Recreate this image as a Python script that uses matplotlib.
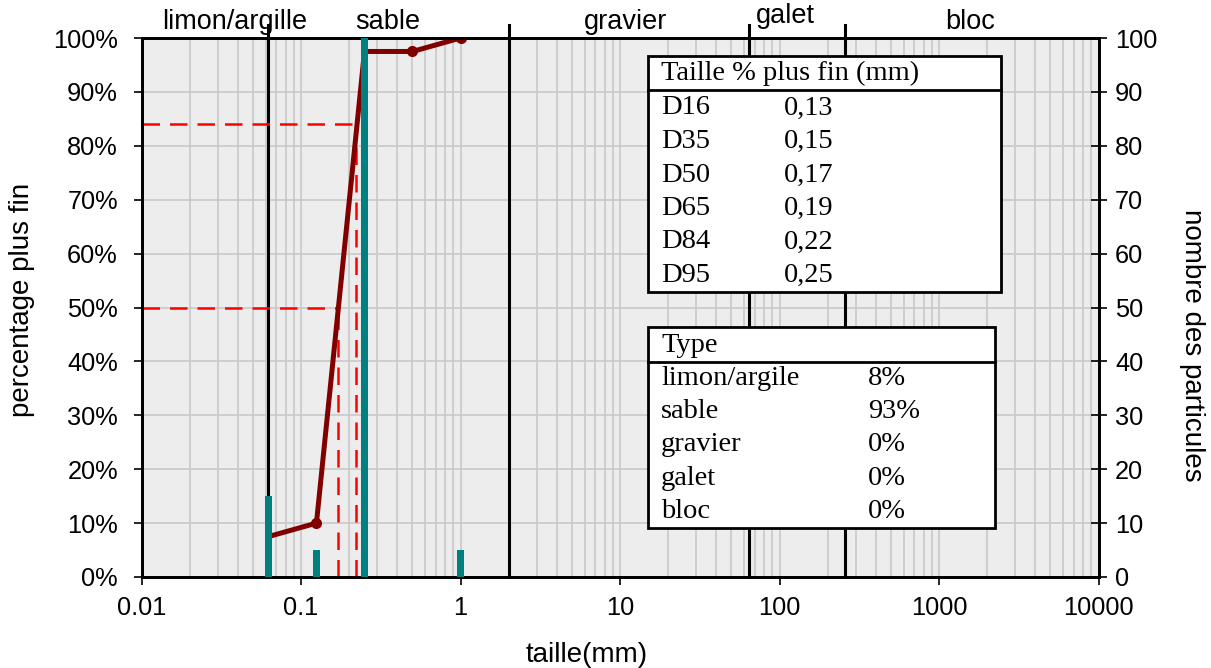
import matplotlib
matplotlib.use("Agg")
import matplotlib.pyplot as plt
from matplotlib.patches import Rectangle
from matplotlib.lines import Line2D
from matplotlib.ticker import FixedLocator, NullFormatter
import numpy as np

# ---------------- data ----------------
sizes = [0.0625, 0.125, 0.25, 0.5, 1]          # mm
cum_pct = [7.5, 10, 97.5, 97.5, 100]           # % plus fin
counts = [15, 5, 175, 0, 5]                    # nombre des particules

d_labels = ["D16", "D35", "D50", "D65", "D84", "D95"]
d_values = ["0,13", "0,15", "0,17", "0,19", "0,22", "0,25"]

type_labels = ["limon/argile", "sable", "gravier", "galet", "bloc"]
type_values = ["8%", "93%", "0%", "0%", "0%"]

class_names = ["limon/argille", "sable", "gravier", "galet", "bloc"]
class_label_x = [0.0385, 0.35, 10.8, 109, 1570]
class_bounds = [0.0625, 2, 64, 256]

d50, d84 = 0.17, 0.22

xtick_vals = [0.01, 0.1, 1, 10, 100, 1000, 10000]
xtick_labels = ["0.01", "0.1", "1", "10", "100", "1000", "10000"]
ytick_vals = list(range(0, 101, 10))

# ---------------- figure ----------------
W, H = 1211, 668
fig = plt.figure(figsize=(W / 100, H / 100), dpi=100)
plt.rcParams['font.family'] = ['Liberation Sans', 'DejaVu Sans']

TICK_FS = 18.3
LAB_FS = 20

def fx(px):
    return px / W

def fy(py):
    return 1 - py / H

L, R, T, B = 141.5, 1098.5, 38, 577
ax = fig.add_axes([fx(L), fy(B), fx(R) - fx(L), fy(T) - fy(B)])
ax.set_xscale('log')
ax.set_xlim(0.01, 10000)
ax.set_ylim(0, 100)
ax.set_facecolor('#ededed')

# grid
ax.xaxis.set_minor_locator(FixedLocator(
    [m * 10.0 ** e for e in range(-2, 4) for m in range(2, 10)]))
ax.xaxis.set_minor_formatter(NullFormatter())
ax.set_xticks(xtick_vals)
ax.set_xticklabels(xtick_labels)
ax.set_yticks(ytick_vals)
ax.set_yticklabels([f"{v}%" for v in ytick_vals])
ax.grid(True, which='both', axis='x', color='#c8c8c8', lw=1.2, zorder=0)
ax.grid(True, which='major', axis='y', color='#c8c8c8', lw=1.2, zorder=0)
ax.set_axisbelow(True)
ax.tick_params(axis='x', which='minor', length=0)
ax.tick_params(axis='x', which='major', direction='out', length=6, width=1.2,
               labelsize=TICK_FS, pad=8)
ax.tick_params(axis='y', direction='out', length=6, width=1.2,
               labelsize=TICK_FS, pad=11)
for s in ax.spines.values():
    s.set_linewidth(2)
    s.set_color('black')

# class boundaries
for b in class_bounds:
    ax.plot([b, b], [0, 102.5], color='black', lw=2.2, zorder=2, clip_on=False)

# class labels on top
for name, xv in zip(class_names, class_label_x):
    yy = 1.04 if name == "galet" else 1.03
    ax.text(xv, yy, name, transform=ax.get_xaxis_transform(), ha='center',
            va='center', fontsize=19.5, color='black')

# dashed D50 / D84 lines
dash = dict(color='#ff0000', lw=1.8, dashes=(7, 4), zorder=3)
ax.plot([0.01, d84], [84, 84], **dash)
ax.plot([d84, d84], [0, 84], **dash)
ax.plot([0.01, d50], [50, 50], **dash)
ax.plot([d50, d50], [0, 50], **dash)

# cumulative curve
ax.plot(sizes, cum_pct, color='#800000', lw=3.6, zorder=4,
        marker='o', markersize=7, markevery=[1, 3, 4])

# counts bars on right axis
ax2 = ax.twinx()
ax2.set_ylim(0, 100)
ax2.set_yticks(ytick_vals)
ax2.set_yticklabels([str(v) for v in ytick_vals])
ax2.tick_params(axis='y', direction='inout', length=12, width=1.2,
                labelsize=TICK_FS, pad=6)
for s in ax2.spines.values():
    s.set_linewidth(2)
half = 0.024
lefts = [s / 10 ** half for s in sizes]
widths = [s * 10 ** half - s / 10 ** half for s in sizes]
ax2.bar(lefts, counts, width=widths, align='edge', color='#008080', zorder=5)
ax2.set_xlim(0.01, 10000)

# axis labels
fig.text(fx(587), fy(655), "taille(mm)", ha='center', va='center', fontsize=LAB_FS)
fig.text(fx(22.5), fy(300), "percentage plus fin", ha='center', va='center',
         rotation=90, fontsize=LAB_FS)
fig.text(fx(1192), fy(345), "nombre des particules", ha='center', va='center',
         rotation=270, fontsize=LAB_FS)

# ---------------- tables ----------------
serif = ['Liberation Serif', 'DejaVu Serif']
tfs = 20.5

def table(x0, x1, y0, y1, ysep, header, hy, rows, ystart, dy, xval):
    fig.add_artist(Rectangle((fx(x0), fy(y1)), fx(x1) - fx(x0), fy(y0) - fy(y1),
                             transform=fig.transFigure, facecolor='white',
                             edgecolor='black', lw=2, zorder=10))
    fig.add_artist(Line2D([fx(x0), fx(x1)], [fy(ysep), fy(ysep)],
                          transform=fig.transFigure, color='black', lw=2, zorder=11))
    fig.text(fx(x0 + 13), fy(hy), header, ha='left', va='center',
             fontsize=tfs, family=serif, zorder=12)
    for i, (a, b) in enumerate(rows):
        yy = ystart + i * dy
        fig.text(fx(x0 + 13), fy(yy), a, ha='left', va='center',
                 fontsize=tfs, family=serif, zorder=12)
        fig.text(fx(xval), fy(yy), b, ha='left', va='center',
                 fontsize=tfs, family=serif, zorder=12)

table(648, 1001, 56, 292, 90, "Taille % plus fin (mm)", 73,
      list(zip(d_labels, d_values)), 108, 33.5, 784)
table(648, 995, 327, 528, 362, "Type", 345,
      list(zip(type_labels, type_values)), 378.5, 33.2, 868)

fig.savefig("out.png", dpi=100)
